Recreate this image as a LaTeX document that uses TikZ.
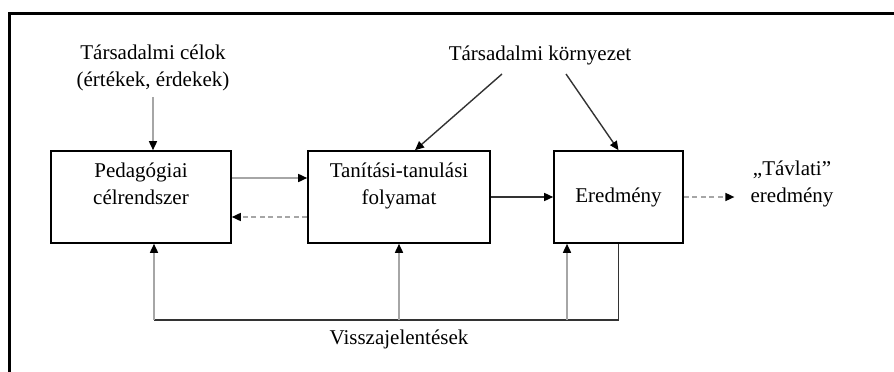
\documentclass[tikz,border=0pt]{standalone}
\usepackage{fontspec}
\setmainfont{Liberation Serif}
\usepackage{tikz}
\usetikzlibrary{arrows.meta,calc,positioning}

\begin{document}
\begin{tikzpicture}[x=1pt,y=-1pt,
                    font=\fontsize{21}{26.5}\selectfont,
                    box/.style={draw,line width=1.6pt,minimum height=92pt,align=center,inner sep=0pt},
                    lbl/.style={align=center,inner sep=0pt},
                    tip/.style={-{Triangle[length=9pt,width=8pt,color=black]}},
                    dark arrow/.style={tip,draw=black!80,line width=1.4pt},
                    grey arrow/.style={tip,draw=black!35,line width=1.6pt},
                    back arrow/.style={grey arrow,dash pattern=on 5pt off 3.5pt}]

  % frame
  \useasboundingbox (0,0) rectangle (894,372);
  \draw[line width=3pt] (9,372) -- (9,13.5) -- (894,13.5);

  % boxes
  \node[box,minimum width=180pt] (pc) at (141,197) {Pedagógiai\\célrendszer\\ };
  \node[box,minimum width=182pt] (tt) at (399,197) {Tanítási-tanulási\\folyamat\\ };
  \node[box,minimum width=129pt] (er) at (618.5,197) {Eredmény};

  % labels
  \node[lbl] (celok) at (153,68) {Társadalmi célok\\(értékek, érdekek)};
  \node[lbl] (korny) at (540,55) {Társadalmi környezet};
  \node[lbl] (tavlati) at (792,184) {„Távlati”\\eredmény};
  \node[lbl] (vissza) at (399,339) {Visszajelentések};

  \coordinate (k1) at (502,74);
  \coordinate (k2) at (566,74);
  \coordinate (fb) at (154,320);
  \coordinate (fb3) at (567,320);

  % forward arrows
  \draw[grey arrow] ([yshift=-6pt]celok.south) -- (celok.south |- pc.north);
  \draw[grey arrow] ([yshift=19pt]pc.east) -- ([yshift=19pt]tt.west);
  \draw[back arrow] ([yshift=-20pt]tt.west) -- ([yshift=-20pt]pc.east);
  \draw[dark arrow] (tt) -- (er);
  \draw[back arrow,shorten >=16pt] (er.east) -- (tavlati.west |- er.east);
  \draw[dark arrow] (k1) -- ([xshift=16pt]tt.north);
  \draw[dark arrow] (k2) -- (er.north);

  % feedback loop
  \draw[draw=black!80,line width=1.6pt] (er.south) |- (fb);
  \draw[grey arrow] (fb) -- (pc.south -| fb);
  \draw[grey arrow] (tt.south |- fb) -- (tt.south);
  \draw[grey arrow] (fb3) -- (er.south -| fb3);
\end{tikzpicture}
\end{document}
